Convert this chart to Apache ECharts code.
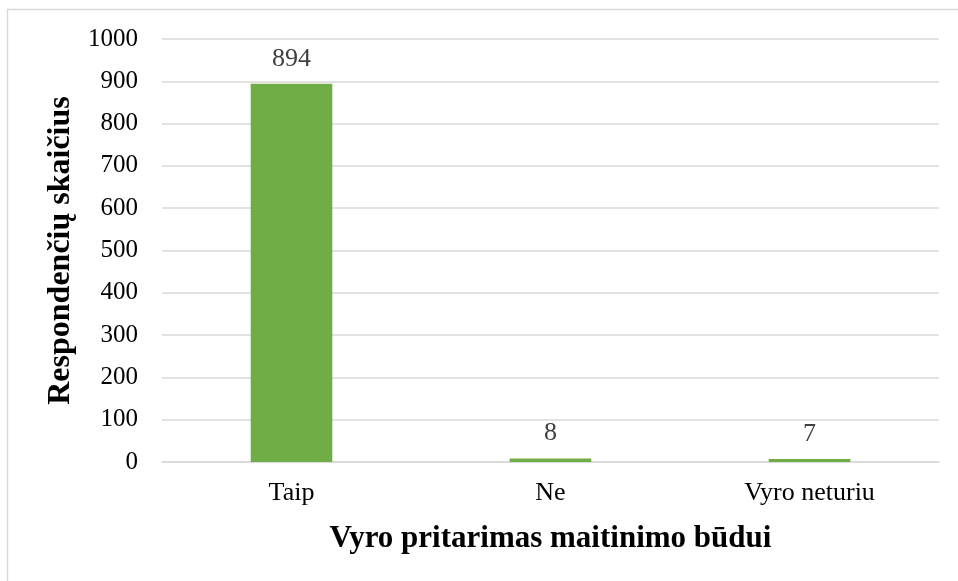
<!DOCTYPE html>
<html>
<head>
<meta charset="utf-8">
<script src="https://cdn.jsdelivr.net/npm/echarts@6/dist/echarts.min.js"></script>
<style>
  html, body { margin: 0; padding: 0; background: #fff; }
  #chart { width: 958px; height: 581px; }
</style>
</head>
<body>
<div id="chart"></div>
<script>
// Categories and respondent counts
const categories = ['Taip', 'Ne', 'Vyro neturiu'];
const counts = [894, 8, 7];
const yTicks = { min: 0, max: 1000, interval: 100 };

const serif = '"Liberation Serif", "Times New Roman", serif';

const chart = echarts.init(document.getElementById('chart'));
chart.setOption({
  animation: false,
  backgroundColor: '#fff',
  graphic: [{
    type: 'rect',
    shape: { x: 7.5, y: 9.5, width: 1200, height: 1200 },
    style: { fill: 'none', stroke: '#d9d9d9', lineWidth: 1.5 },
    silent: true
  }],
  grid: { left: 162, right: 19, top: 39, bottom: 119 },
  xAxis: {
    type: 'category',
    data: categories,
    name: 'Vyro pritarimas maitinimo būdui',
    nameLocation: 'middle',
    nameGap: 61,
    nameTextStyle: { fontFamily: serif, fontSize: 31, fontWeight: 'bold', color: '#000' },
    axisLine: { show: true, lineStyle: { color: '#d9d9d9', width: 1.5 } },
    axisTick: { show: false },
    axisLabel: { fontFamily: serif, fontSize: 26, color: '#000', margin: 18 }
  },
  yAxis: {
    type: 'value',
    min: yTicks.min,
    max: yTicks.max,
    interval: yTicks.interval,
    name: 'Respondenčių skaičius',
    nameLocation: 'middle',
    nameGap: 81,
    nameTextStyle: { fontFamily: serif, fontSize: 32, fontWeight: 'bold', color: '#000' },
    axisLine: { show: false },
    axisTick: { show: false },
    axisLabel: { fontFamily: serif, fontSize: 25, color: '#000', margin: 24, formatter: v => String(v) },
    splitLine: { lineStyle: { color: '#d9d9d9', width: 1.5 } }
  },
  series: [{
    type: 'bar',
    data: counts,
    barWidth: '31.5%',
    itemStyle: { color: '#70ad47' },
    label: {
      show: true,
      position: 'top',
      distance: 12,
      fontFamily: serif,
      fontSize: 26,
      color: '#404040'
    }
  }]
});
</script>
</body>
</html>
